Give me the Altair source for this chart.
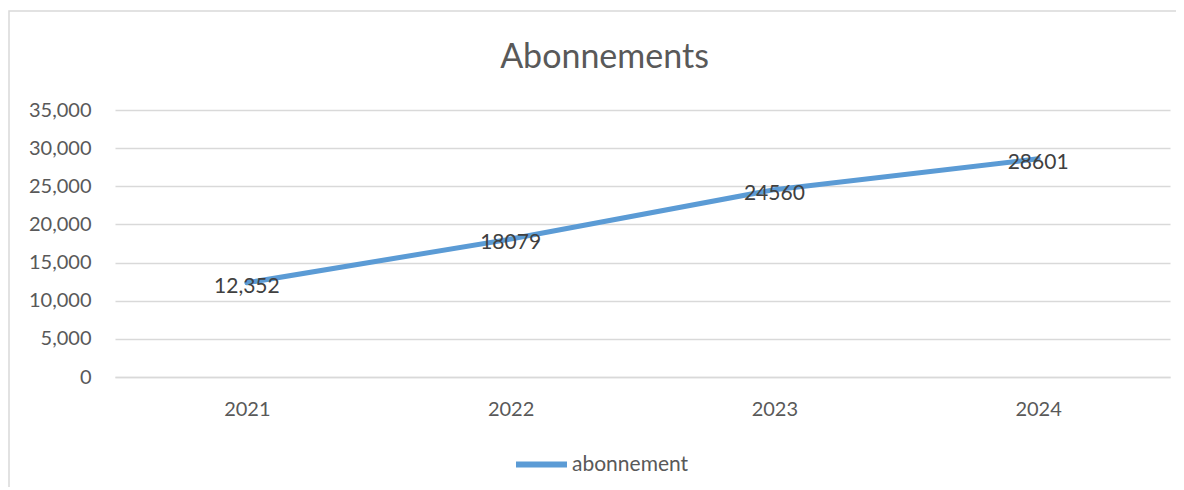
import altair as alt
import pandas as pd

years = ["2021", "2022", "2023", "2024"]
values = [12352, 18079, 24560, 28601]
value_labels = ["12,352", "18079", "24560", "28601"]
series = ["abonnement"] * 4
y_ticks = [0, 5000, 10000, 15000, 20000, 25000, 30000, 35000]

df = pd.DataFrame({"year": years, "value": values, "label": value_labels, "series": series})

FONT = "Lato"
W, H = 1055, 267

x_enc = alt.X("year:O", sort=years, title=None,
              scale=alt.Scale(type="point", padding=0.5),
              axis=alt.Axis(labelAngle=0, ticks=False, domain=True, domainColor="#d9d9d9",
                            domainWidth=1.5, labelPadding=22, labelFont=FONT, labelFontSize=20,
                            labelColor="#595959", grid=False))
y_enc = alt.Y("value:Q", title=None,
              scale=alt.Scale(domain=[0, 35000], nice=False),
              axis=alt.Axis(values=y_ticks, format=",.0f", ticks=False, domain=False,
                            gridColor="#d9d9d9", gridWidth=1.5, labelPadding=24,
                            labelFont=FONT, labelFontSize=20, labelColor="#595959"))

base = alt.Chart(df)

border = alt.Chart(pd.DataFrame({"d": [0]})).mark_rect(
    fill=None, stroke="#d9d9d9", strokeWidth=1.5, clip=False
).encode(
    x=alt.value(-106), x2=alt.value(1090), y=alt.value(-99), y2=alt.value(420)
)

line = base.mark_line(strokeWidth=5, strokeCap="round", strokeJoin="round").encode(
    x=x_enc,
    y=y_enc,
    color=alt.Color("series:N", scale=alt.Scale(range=["#5B9BD5"]),
                    legend=alt.Legend(title=None, orient="none", legendX=398, legendY=326,
                                      symbolType="stroke", symbolSize=2600, symbolStrokeWidth=6,
                                      labelFont=FONT, labelFontSize=21, labelColor="#595959",
                                      labelOffset=2)),
)

labels = base.mark_text(font=FONT, fontSize=21, color="#404040", baseline="middle", dy=4).encode(
    x=x_enc,
    y=y_enc,
    text="label:N",
)

chart = alt.layer(border, line, labels).properties(
    width=W, height=H,
    autosize=alt.AutoSizeParams(type="none"),
    padding={"left": 107, "top": 102, "right": 6, "bottom": 110},
    title=alt.Title("Abonnements", font=FONT, fontSize=34, fontWeight="normal",
                    color="#595959", anchor="middle", offset=-65, dx=-38),
).configure_view(stroke=None)

chart.save("out.html", embed_options={"renderer": "svg", "actions": False})
